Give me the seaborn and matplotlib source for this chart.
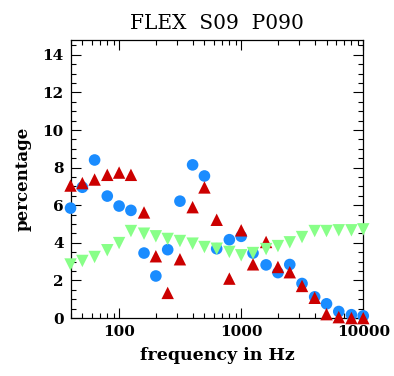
import matplotlib
matplotlib.use("Agg")
import matplotlib.pyplot as plt
import matplotlib.ticker as mticker
import numpy as np
import pandas as pd
import seaborn as sns

# Third-octave band centre frequencies (Hz)
freq = [40, 50, 63, 80, 100, 125, 160, 200, 250, 315, 400, 500, 630,
        800, 1000, 1250, 1600, 2000, 2500, 3150, 4000, 5000, 6300, 8000, 10000]

# Percentage per band for the three series
blue_pct = [5.85, 6.96, 8.41, 6.49, 5.96, 5.73, 3.46, 2.24, 3.64, 6.22, 8.15, 7.56,
            3.69, 4.17, 4.35, 3.46, 2.83, 2.42, 2.85, 1.84, 1.13, 0.76, 0.35, 0.18, 0.12]
red_pct = [7.05, 7.18, 7.37, 7.62, 7.74, 7.62, 5.62, 3.29, 1.34, 3.13, 5.90, 6.95,
           5.23, 2.10, 4.67, 2.86, 4.05, 2.72, 2.44, 1.71, 1.08, 0.21, 0.05, 0.0, 0.0]
green_pct = [2.85, 3.04, 3.25, 3.61, 3.99, 4.63, 4.49, 4.35, 4.21, 4.10, 3.96, 3.78,
             3.69, 3.52, 3.34, 3.46, 3.67, 3.83, 4.03, 4.31, 4.63, 4.63, 4.67, 4.67, 4.72]

title = "FLEX  S09  P090"
xlabel = "frequency in Hz"
ylabel = "percentage"

sns.set_theme(style="white")
plt.rcParams["font.family"] = ["DejaVu Serif"]
plt.rcParams["text.color"] = "black"
plt.rcParams["axes.labelcolor"] = "black"
plt.rcParams["xtick.color"] = "black"
plt.rcParams["ytick.color"] = "black"

df = pd.DataFrame({"freq": freq, "blue": blue_pct, "red": red_pct, "green": green_pct})

fig = plt.figure(figsize=(3.94, 3.76), dpi=100)
ax = fig.add_axes([0.179, 0.154, 0.743, 0.740])

sns.scatterplot(data=df, x="freq", y="blue", ax=ax, marker="o", s=70,
                color="#1a8cff", edgecolor="none", clip_on=False, zorder=3)
sns.scatterplot(data=df, x="freq", y="red", ax=ax, marker="^", s=80,
                color="#cc0000", edgecolor="none", clip_on=False, zorder=4)
sns.scatterplot(data=df, x="freq", y="green", ax=ax, marker="v", s=80,
                color="#88ff88", edgecolor="none", clip_on=False, zorder=5)

ax.set_xscale("log")
ax.set_xlim(40, 10000)
ax.set_ylim(0, 14.8)

ax.xaxis.set_major_locator(mticker.FixedLocator([100, 1000, 10000]))
ax.xaxis.set_major_formatter(mticker.FixedFormatter(["100", "1000", "10000"]))
ax.xaxis.set_minor_locator(mticker.LogLocator(base=10, subs=np.arange(2, 10)))
ax.xaxis.set_minor_formatter(mticker.NullFormatter())
ax.yaxis.set_major_locator(mticker.MultipleLocator(2))
ax.yaxis.set_minor_locator(mticker.MultipleLocator(0.5))

ax.tick_params(which="both", direction="in", top=True, right=True,
               bottom=True, left=True, color="black", width=0.8)
ax.tick_params(which="major", length=7, labelsize=11, pad=5)
ax.tick_params(which="minor", length=3.5)
for lab in ax.get_xticklabels() + ax.get_yticklabels():
    lab.set_fontweight("bold")

for sp in ax.spines.values():
    sp.set_color("black")
    sp.set_linewidth(0.9)

ax.set_xlabel(xlabel, fontsize=12.5, fontweight="bold", labelpad=6)
ax.set_ylabel(ylabel, fontsize=12, fontweight="bold", labelpad=8)
ax.set_title(title, fontsize=14.5, pad=8)

fig.savefig("out.png", dpi=100)
